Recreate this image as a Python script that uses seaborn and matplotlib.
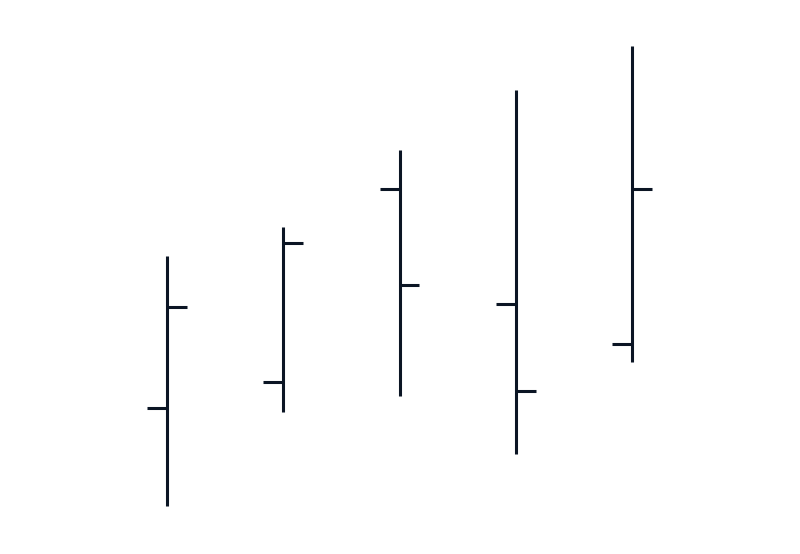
import matplotlib
matplotlib.use("Agg")
import matplotlib.pyplot as plt
import seaborn as sns
import numpy as np

# OHLC data (arbitrary units)
periods = ["P1", "P2", "P3", "P4", "P5"]
open_ = [14.6, 17.2, 36.5, 25.0, 21.0]
high = [29.8, 32.7, 40.4, 46.4, 50.8]
low = [4.8, 14.2, 15.8, 10.0, 19.2]
close = [24.7, 31.1, 26.9, 16.3, 36.5]

sns.set_theme(style="white")
color = "#0b1524"

fig = plt.figure(figsize=(8, 5.54), dpi=100)
ax = fig.add_axes([0, 0, 1, 1])
x = np.arange(len(periods))
tick = 0.17
ax.vlines(x, low, high, color=color, linewidth=2.2, capstyle="butt")
ax.hlines(open_, x - tick, x, color=color, linewidth=2.2, capstyle="butt")
ax.hlines(close, x, x + tick, color=color, linewidth=2.2, capstyle="butt")
ax.set_xlim(-1.4366, 5.445)
ax.set_ylim(0, 55.4)
ax.axis("off")
fig.savefig("out.png", dpi=100)
